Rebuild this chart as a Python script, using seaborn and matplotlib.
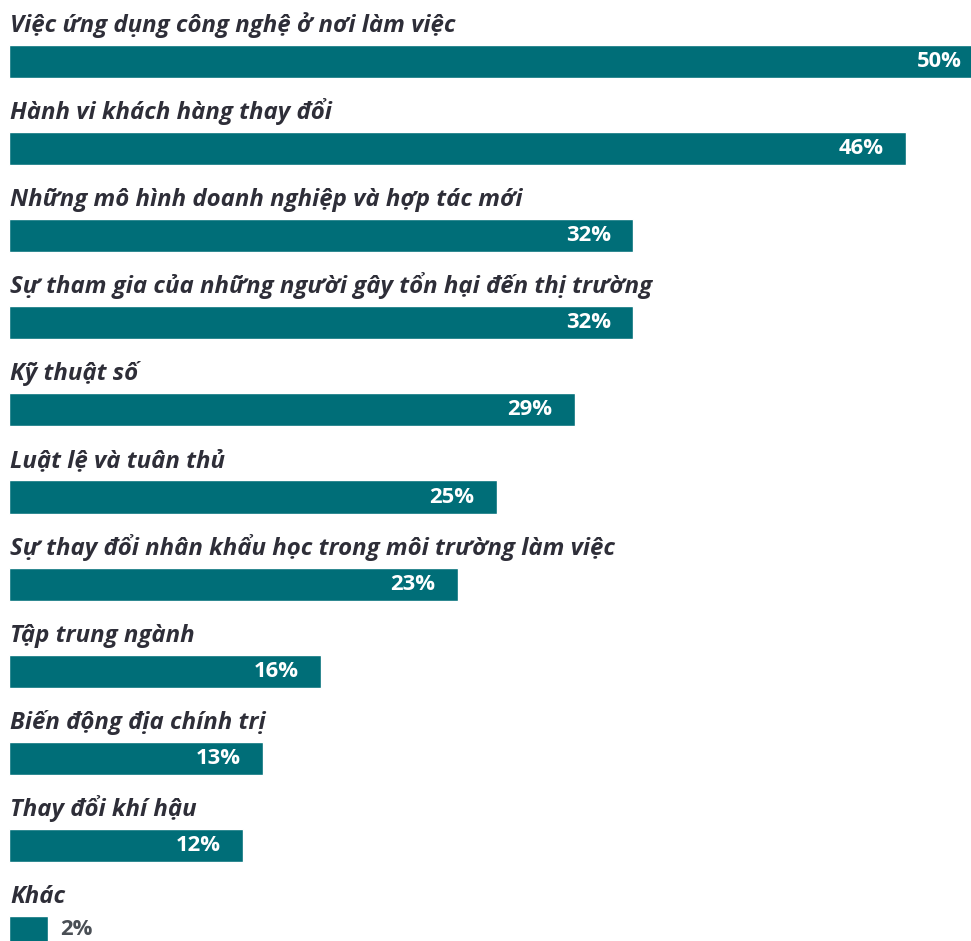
import matplotlib
matplotlib.use("Agg")
import matplotlib.pyplot as plt
import seaborn as sns
import pandas as pd

categories = [
    "Việc ứng dụng công nghệ ở nơi làm việc",
    "Hành vi khách hàng thay đổi",
    "Những mô hình doanh nghiệp và hợp tác mới",
    "Sự tham gia của những người gây tổn hại đến thị trường",
    "Kỹ thuật số",
    "Luật lệ và tuân thủ",
    "Sự thay đổi nhân khẩu học trong môi trường làm việc",
    "Tập trung ngành",
    "Biến động địa chính trị",
    "Thay đổi khí hậu",
    "Khác",
]
values = [50, 46, 32, 32, 29, 25, 23, 16, 13, 12, 2]

BAR_COLOR = "#006e78"
LABEL_COLOR = "#2e2e38"
OUTSIDE_COLOR = "#4a4f55"

sns.set_theme(style="white")
plt.rcParams["font.family"] = ["Open Sans", "DejaVu Sans"]

df = pd.DataFrame({"category": categories, "value": values})

W, H, DPI = 971, 941, 100
fig = plt.figure(figsize=(W / DPI, H / DPI), dpi=DPI)
ax = fig.add_axes([9 / W, 0, (W - 9) / W, 1])

sns.barplot(data=df, x="value", y="category", orient="h",
            color=BAR_COLOR, saturation=1, width=0.38, ax=ax)

px_per_unit = 19.5
pitch = 87.1
ax.set_xlim(0, (W - 9) / px_per_unit)
top = -61.5 / pitch
bottom = 10 + (H - 932.5) / pitch
ax.set_ylim(bottom, top)

ax.set_axis_off()

for i, (cat, v) in enumerate(zip(categories, values)):
    ax.text(0.05, i - 0.339, cat, ha="left", va="baseline",
            fontsize=17.25, fontweight="bold", fontstyle="italic",
            color=LABEL_COLOR)
    if v >= 5:
        ax.annotate(f"{v}%", xy=(v, i), xytext=(-16, 0),
                    textcoords="offset points", ha="right", va="center",
                    fontsize=15.8, fontweight="bold", color="white",
                    annotation_clip=False)
    else:
        ax.annotate(f"{v}%", xy=(v, i), xytext=(9, 2),
                    textcoords="offset points", ha="left", va="center",
                    fontsize=15.8, fontweight="bold", color=OUTSIDE_COLOR,
                    annotation_clip=False)

fig.savefig("out.png", dpi=DPI)
